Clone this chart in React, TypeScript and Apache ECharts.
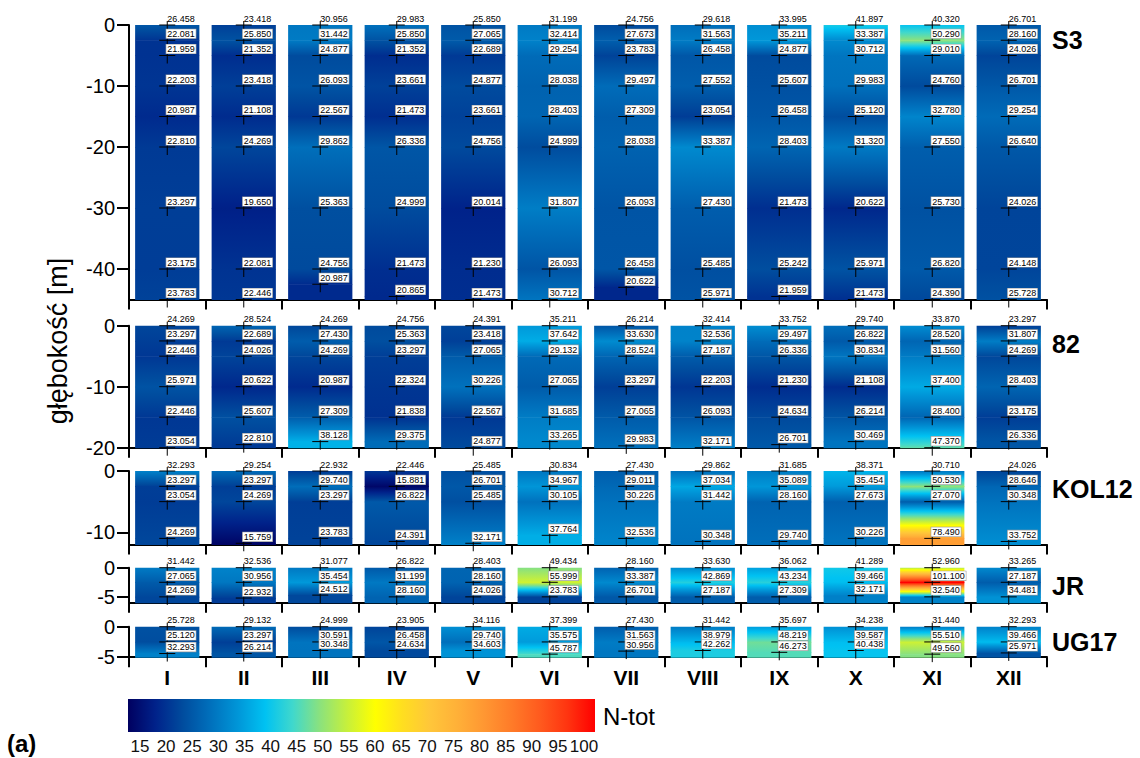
import React, { useEffect, useRef } from 'react';
import * as echarts from 'echarts';

const MONTHS = ['I', 'II', 'III', 'IV', 'V', 'VI', 'VII', 'VIII', 'IX', 'X', 'XI', 'XII'];

// ---- Station S3: shared sampling depths [m], deepest sample per month, N-tot per month
const S3_DEPTHS = [0, -2.5, -5, -10, -15, -20, -30, -40];
const S3_LAST_DEPTH = [-45, -45, -42.5, -44.5, -45, -45, -43, -45, -44.5, -45, -45, -45];
const S3_VALUES = [
  [26.458, 22.081, 21.959, 22.203, 20.987, 22.810, 23.297, 23.175, 23.783],
  [23.418, 25.850, 21.352, 23.418, 21.108, 24.269, 19.650, 22.081, 22.446],
  [30.956, 31.442, 24.877, 26.093, 22.567, 29.862, 25.363, 24.756, 20.987],
  [29.983, 25.850, 21.352, 23.661, 21.473, 26.336, 24.999, 21.473, 20.865],
  [25.850, 27.065, 22.689, 24.877, 23.661, 24.756, 20.014, 21.230, 21.473],
  [31.199, 32.414, 29.254, 28.038, 28.403, 24.999, 31.807, 26.093, 30.712],
  [24.756, 27.673, 23.783, 29.497, 27.309, 28.038, 26.093, 26.458, 20.622],
  [29.618, 31.563, 26.458, 27.552, 23.054, 33.387, 27.430, 25.485, 25.971],
  [33.995, 35.211, 24.877, 25.607, 26.458, 28.403, 21.473, 25.242, 21.959],
  [41.897, 33.387, 30.712, 29.983, 25.120, 31.320, 20.622, 25.971, 21.473],
  [40.320, 50.290, 29.010, 24.760, 32.780, 27.550, 25.730, 26.820, 24.390],
  [26.701, 28.160, 24.026, 26.701, 29.254, 26.640, 24.026, 24.148, 25.728],
];

// ---- Station 82
const P82_DEPTHS = [0, -2.5, -5, -10, -15];
const P82_LAST_DEPTH = [-20, -19.5, -19, -19, -20, -19, -19.7, -20, -19.5, -19, -20, -19];
const P82_VALUES = [
  [24.269, 23.297, 22.446, 25.971, 22.446, 23.054],
  [28.524, 22.689, 24.026, 20.622, 25.607, 22.810],
  [24.269, 27.430, 24.269, 20.987, 27.309, 38.128],
  [24.756, 25.363, 23.297, 22.324, 21.838, 29.375],
  [24.391, 23.418, 27.065, 30.226, 22.567, 24.877],
  [35.211, 37.642, 29.132, 27.065, 31.685, 33.265],
  [26.214, 33.630, 28.524, 23.297, 27.065, 29.983],
  [32.414, 32.536, 27.187, 22.203, 26.093, 32.171],
  [33.752, 29.497, 26.336, 21.230, 24.634, 26.701],
  [29.740, 26.822, 30.834, 21.108, 26.214, 30.469],
  [33.870, 28.520, 31.560, 37.400, 28.400, 47.370],
  [23.297, 31.807, 24.269, 28.403, 23.175, 26.336],
];

// ---- Station KOL12
const KOL12_DEPTHS = [0, -2.5, -5];
const KOL12_LAST_DEPTH = [-11, -11.8, -11, -11.5, -11.8, -10.5, -11, -11.5, -11.5, -11, -11, -11.5];
const KOL12_VALUES = [
  [32.293, 23.297, 23.054, 24.269],
  [29.254, 23.297, 24.269, 15.759],
  [22.932, 29.740, 23.297, 23.783],
  [22.446, 15.881, 26.822, 24.391],
  [25.485, 26.701, 25.485, 32.171],
  [30.834, 34.967, 30.105, 37.764],
  [27.430, 29.011, 30.226, 32.536],
  [29.862, 37.034, 31.442, 30.348],
  [31.685, 35.089, 28.160, 29.740],
  [38.371, 35.454, 27.673, 30.226],
  [30.710, 50.530, 27.070, 78.490],
  [24.026, 28.646, 30.348, 33.752],
];

// ---- Station JR
const JR_DEPTHS = [0, -2.5];
const JR_LAST_DEPTH = [-5, -5.2, -4.7, -5, -5, -5, -5, -5, -5, -4.8, -5, -5];
const JR_VALUES = [
  [31.442, 27.065, 24.269],
  [32.536, 30.956, 22.932],
  [31.077, 35.454, 24.512],
  [26.822, 31.199, 28.160],
  [28.403, 28.160, 24.026],
  [49.434, 55.999, 23.783],
  [28.160, 33.387, 26.701],
  [33.630, 42.869, 27.187],
  [36.062, 43.234, 27.309],
  [41.289, 39.466, 32.171],
  [52.960, 101.100, 32.540],
  [33.265, 27.187, 34.481],
];

// ---- Station UG17
const UG17_DEPTHS = [0, -2.5];
const UG17_LAST_DEPTH = [-4.4, -4.4, -3.9, -3.9, -3.9, -4.5, -4.0, -3.9, -4.2, -3.9, -4.5, -4.3];
const UG17_VALUES = [
  [25.728, 25.120, 32.293],
  [29.132, 23.297, 26.214],
  [24.999, 30.591, 30.348],
  [23.905, 26.458, 24.634],
  [34.116, 29.740, 34.603],
  [37.399, 35.575, 45.787],
  [27.430, 31.563, 30.956],
  [31.442, 38.979, 42.262],
  [35.697, 48.219, 46.273],
  [34.238, 39.587, 40.438],
  [31.440, 55.510, 49.560],
  [32.293, 39.466, 25.971],
];

// Depth axis extent and labelled depths per station
const STATION_NAMES = ['S3', '82', 'KOL12', 'JR', 'UG17'];
const AXIS_BOTTOM = [-45, -20, -12, -6, -5];
const AXIS_TICKS = [[0, -10, -20, -30, -40], [0, -10, -20], [0, -10], [0, -5], [0, -5]];

// N-tot colour scale
const CMAP_VALUES = [15, 20, 25, 30, 35, 40, 45, 50, 55, 60, 65, 70, 75, 80, 85, 90, 95, 100];
const CMAP_COLORS = [
  '#000060', '#00228a', '#004c9e', '#0070bc', '#0096d8', '#00c2f2', '#40d8cc', '#8ce27c', '#c8f03a',
  '#ffff00', '#ffde20', '#ffc63a', '#ffb038', '#ff9632', '#ff7a28', '#ff5a1e', '#ff3410', '#ff0000',
];

// Layout
const PLOT_LEFT = 129;
const PLOT_WIDTH = 918;
const PANEL_TOP = [25, 325.7, 471, 567.7, 626.7];
const PANEL_HEIGHT = [274.5, 122, 73.5, 35, 30.5];
const FONT = '"Liberation Sans", Arial, sans-serif';

const STATIONS = [
  { depths: S3_DEPTHS, last: S3_LAST_DEPTH, values: S3_VALUES },
  { depths: P82_DEPTHS, last: P82_LAST_DEPTH, values: P82_VALUES },
  { depths: KOL12_DEPTHS, last: KOL12_LAST_DEPTH, values: KOL12_VALUES },
  { depths: JR_DEPTHS, last: JR_LAST_DEPTH, values: JR_VALUES },
  { depths: UG17_DEPTHS, last: UG17_LAST_DEPTH, values: UG17_VALUES },
];

function hexRgb(h: string) {
  return [parseInt(h.slice(1, 3), 16), parseInt(h.slice(3, 5), 16), parseInt(h.slice(5, 7), 16)];
}
const CMAP_RGB = CMAP_COLORS.map(hexRgb);

function colorAt(v: number) {
  const n = CMAP_VALUES.length;
  if (v <= CMAP_VALUES[0]) return CMAP_COLORS[0];
  if (v >= CMAP_VALUES[n - 1]) return CMAP_COLORS[n - 1];
  let k = 0;
  while (k < n - 2 && v > CMAP_VALUES[k + 1]) k++;
  const t = (v - CMAP_VALUES[k]) / (CMAP_VALUES[k + 1] - CMAP_VALUES[k]);
  const a = CMAP_RGB[k];
  const b = CMAP_RGB[k + 1];
  const c = a.map((x, i) => Math.round(x + (b[i] - x) * t));
  return `rgb(${c[0]},${c[1]},${c[2]})`;
}

// colour stops for a linear change of value from v0 to v1, passing through the scale's stops
function gradientStops(v0: number, v1: number) {
  const stops = [{ offset: 0, color: colorAt(v0) }];
  if (v1 !== v0) {
    for (const s of CMAP_VALUES) {
      const t = (s - v0) / (v1 - v0);
      if (t > 0 && t < 1) stops.push({ offset: t, color: colorAt(s) });
    }
  }
  stops.push({ offset: 1, color: colorAt(v1) });
  stops.sort((a, b) => a.offset - b.offset);
  return stops;
}

function buildOption() {
  const grid: any[] = [];
  const xAxis: any[] = [];
  const yAxis: any[] = [];
  const series: any[] = [];
  const graphic: any[] = [];
  const last = STATIONS.length - 1;

  STATIONS.forEach((st, i) => {
    grid.push({ left: PLOT_LEFT, width: PLOT_WIDTH, top: PANEL_TOP[i], height: PANEL_HEIGHT[i] });
    xAxis.push({
      gridIndex: i,
      type: 'category',
      data: MONTHS,
      boundaryGap: true,
      axisLine: { onZero: false, lineStyle: { color: '#000', width: 2 } },
      axisTick: { show: true, length: 10, lineStyle: { color: '#000', width: 2 } },
      axisLabel: {
        show: i === last,
        color: '#000',
        fontSize: 21,
        fontWeight: 'bold',
        fontFamily: FONT,
        margin: 10,
      },
      splitLine: { show: false },
    });
    yAxis.push({
      gridIndex: i,
      type: 'value',
      min: AXIS_BOTTOM[i],
      max: 0,
      axisLine: { show: true, lineStyle: { color: '#000', width: 2 } },
      axisTick: { show: true, length: 12, customValues: AXIS_TICKS[i], lineStyle: { color: '#000', width: 2 } },
      axisLabel: { customValues: AXIS_TICKS[i], color: '#000', fontSize: 20, fontFamily: FONT, margin: 14 },
      splitLine: { show: false },
    });

    // depth segments of each monthly column: [month, topDepth, bottomDepth, topValue, bottomValue]
    const segments: number[][] = [];
    const points: number[][] = [];
    st.values.forEach((vals, m) => {
      const ds = [...st.depths, st.last[m]];
      for (let k = 0; k < ds.length; k++) {
        points.push([m, ds[k], vals[k], k === 0 ? 1 : 0]);
        if (k < ds.length - 1) segments.push([m, ds[k], ds[k + 1], vals[k], vals[k + 1]]);
      }
      const lastD = ds[ds.length - 1];
      if (lastD > AXIS_BOTTOM[i]) {
        const lv = vals[vals.length - 1];
        segments.push([m, lastD, AXIS_BOTTOM[i], lv, lv]);
      }
    });

    series.push({
      type: 'custom',
      xAxisIndex: i,
      yAxisIndex: i,
      data: segments,
      encode: { x: 0, y: [1, 2] },
      z: 1,
      clip: false,
      renderItem: (params: any, api: any) => {
        const m = api.value(0);
        const p0 = api.coord([m, api.value(1)]);
        const p1 = api.coord([m, api.value(2)]);
        const bw = api.size([1, 0])[0] * 0.84;
        const v0 = api.value(3);
        const v1 = api.value(4);
        return {
          type: 'rect',
          shape: { x: p0[0] - bw / 2, y: p0[1], width: bw, height: p1[1] - p0[1] + 0.6 },
          style: { fill: new echarts.graphic.LinearGradient(0, 0, 0, 1, gradientStops(v0, v1)) },
        };
      },
    });

    series.push({
      type: 'custom',
      xAxisIndex: i,
      yAxisIndex: i,
      data: points,
      encode: { x: 0, y: 1 },
      z: 5,
      clip: false,
      renderItem: (params: any, api: any) => {
        const m = api.value(0);
        const p = api.coord([m, api.value(1)]);
        const v = api.value(2);
        const top = api.value(3) === 1;
        return {
          type: 'group',
          children: [
            { type: 'line', shape: { x1: p[0] - 8, y1: p[1], x2: p[0] + 8, y2: p[1] }, style: { stroke: '#000', lineWidth: 1 } },
            { type: 'line', shape: { x1: p[0], y1: p[1] - 4, x2: p[0], y2: p[1] + 8 }, style: { stroke: '#000', lineWidth: 1 } },
            {
              type: 'text',
              x: p[0] - 1,
              y: p[1] - 2,
              z2: 10,
              style: {
                text: v.toFixed(3),
                fill: '#000',
                fontSize: 9,
                lineHeight: 9,
                fontFamily: FONT,
                align: 'left',
                verticalAlign: 'bottom',
                backgroundColor: top ? 'transparent' : '#fff',
                borderColor: top ? 'transparent' : '#9a9a9a',
                borderWidth: top ? 0 : 0.6,
                padding: [0, 1, 0, 1],
              },
            },
          ],
        };
      },
    });

    graphic.push({
      type: 'text',
      x: 1052,
      y: PANEL_TOP[i] + (i === 0 || i === last ? 15 : 18),
      style: {
        text: STATION_NAMES[i],
        fill: '#000',
        fontSize: 25,
        fontWeight: 'bold',
        fontFamily: FONT,
        align: 'left',
        verticalAlign: 'middle',
      },
    });
  });

  // colour bar strip
  const cb = STATIONS.length;
  const lo = CMAP_VALUES[0];
  const hi = CMAP_VALUES[CMAP_VALUES.length - 1];
  grid.push({ left: 128, width: 467, top: 699, height: 33 });
  xAxis.push({ gridIndex: cb, type: 'value', min: lo, max: hi, show: false });
  yAxis.push({ gridIndex: cb, type: 'value', min: 0, max: 1, show: false });
  series.push({
    type: 'custom',
    xAxisIndex: cb,
    yAxisIndex: cb,
    data: [[lo, hi]],
    encode: { x: [0, 1] },
    renderItem: (params: any, api: any) => {
      const a = api.coord([api.value(0), 1]);
      const b = api.coord([api.value(1), 0]);
      const stops = CMAP_VALUES.map((s, k) => ({ offset: (s - lo) / (hi - lo), color: CMAP_COLORS[k] }));
      return {
        type: 'rect',
        shape: { x: a[0], y: a[1], width: b[0] - a[0], height: b[1] - a[1] },
        style: { fill: new echarts.graphic.LinearGradient(0, 0, 1, 0, stops) },
      };
    },
  });

  // colour bar scale labels
  const cl = cb + 1;
  grid.push({ left: 140, width: 444, top: 734, height: 1 });
  xAxis.push({
    gridIndex: cl,
    type: 'value',
    min: lo,
    max: hi,
    interval: 5,
    axisLine: { show: false },
    axisTick: { show: false },
    axisLabel: { color: '#111', fontSize: 17, fontFamily: FONT, margin: 3 },
    splitLine: { show: false },
  });
  yAxis.push({ gridIndex: cl, type: 'value', min: 0, max: 1, show: false });

  graphic.push(
    {
      type: 'text',
      x: 603,
      y: 716,
      style: { text: 'N-tot', fill: '#000', fontSize: 24, fontFamily: FONT, align: 'left', verticalAlign: 'middle' },
    },
    {
      type: 'text',
      x: 7,
      y: 743,
      style: { text: '(a)', fill: '#000', fontSize: 24, fontWeight: 'bold', fontFamily: FONT, align: 'left', verticalAlign: 'middle' },
    },
    {
      type: 'text',
      x: 58,
      y: 341,
      rotation: Math.PI / 2,
      style: { text: 'głębokość [m]', fill: '#000', fontSize: 27, fontFamily: FONT, align: 'center', verticalAlign: 'middle' },
    }
  );

  return { animation: false, backgroundColor: '#fff', grid, xAxis, yAxis, series, graphic };
}

export default function App() {
  const ref = useRef<HTMLDivElement>(null);
  useEffect(() => {
    const chart = echarts.init(ref.current!, null, { renderer: 'svg' });
    chart.setOption(buildOption() as any);
    return () => chart.dispose();
  }, []);
  return <div ref={ref} style={{ position: 'absolute', left: 0, top: 0, width: 1140, height: 758 }} />;
}
